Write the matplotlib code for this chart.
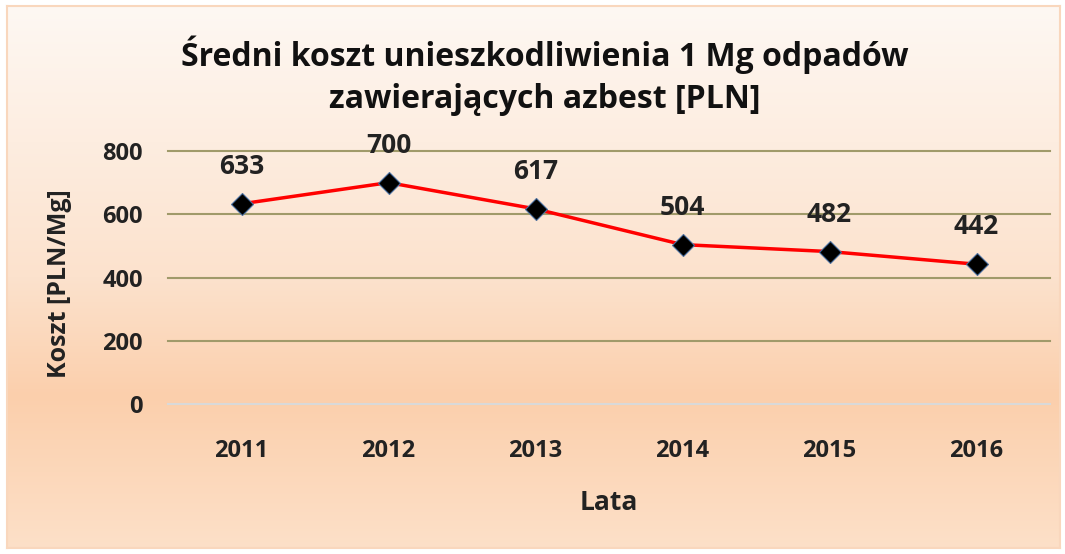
import matplotlib
matplotlib.use("Agg")
import matplotlib.pyplot as plt
import numpy as np

years = ["2011", "2012", "2013", "2014", "2015", "2016"]
costs = [633, 700, 617, 504, 482, 442]
yticks = [0, 200, 400, 600, 800]
title = "Średni koszt unieszkodliwienia 1 Mg odpadów\nzawierających azbest [PLN]"
xlabel = "Lata"
ylabel = "Koszt [PLN/Mg]"

plt.rcParams['font.family'] = ['Open Sans', 'DejaVu Sans']
W, H = 1065, 554
fig = plt.figure(figsize=(W/100, H/100), dpi=100)
fig.patch.set_facecolor("white")

# background gradient
bg = fig.add_axes([7/W, 6/H, 1053/W, 542/H], zorder=0)
c_top = np.array([254, 248, 243]) / 255
c_mid = np.array([252, 226, 205]) / 255
c_low = np.array([251, 207, 172]) / 255
c_bot = np.array([253, 224, 200]) / 255
t = np.linspace(0, 1, 300)
cols = np.zeros((300, 3))
for i, v in enumerate(t):
    if v < 0.5:
        a = v / 0.5; cols[i] = c_top * (1 - a) + c_mid * a
    elif v < 0.72:
        a = (v - 0.5) / 0.22; cols[i] = c_mid * (1 - a) + c_low * a
    else:
        a = (v - 0.72) / 0.28; cols[i] = c_low * (1 - a) + c_bot * a
img = np.repeat(cols[:, None, :], 10, axis=1)
bg.imshow(img, aspect="auto", extent=[0, 1, 0, 1], origin="upper")
bg.set_xlim(0, 1); bg.set_ylim(0, 1)
bg.set_xticks([]); bg.set_yticks([])
for s in bg.spines.values():
    s.set_edgecolor("#f9d7bd"); s.set_linewidth(1.5)

ax = fig.add_axes([168/W, 1 - 404/H, 882/W, (404 - 151)/H], zorder=1)
ax.patch.set_alpha(0)
x = np.arange(len(years))
ax.plot(x, costs, color="#ff0000", lw=2.5, zorder=3,
        marker="D", markersize=11, markerfacecolor="black",
        markeredgecolor="#4a6fa0", markeredgewidth=0.8)
for xi, v in zip(x, costs):
    ax.annotate(str(v), (xi, v), xytext=(0, 27), textcoords="offset points",
                ha="center", va="center", fontsize=19, fontweight="bold",
                color="#222222")
ax.set_xlim(-0.5, len(years) - 0.5)
ax.set_ylim(0, 800)
ax.set_yticks(yticks)
ax.set_xticks(x)
ax.set_xticklabels(years)
for v in yticks:
    ax.axhline(v, color="#d9d9d9" if v == 0 else "#a09a6a", lw=1.5,
               zorder=1, clip_on=False)
ax.tick_params(length=0, labelsize=17, colors="#222222")
ax.tick_params(axis="y", pad=18)
ax.tick_params(axis="x", pad=25)
for lab in ax.get_xticklabels() + ax.get_yticklabels():
    lab.set_fontweight("bold")
for s in ax.spines.values():
    s.set_visible(False)
ax.set_xlabel(xlabel, fontsize=19, fontweight="bold", color="#222222")
ax.xaxis.label.set_verticalalignment("center")
ax.xaxis.set_label_coords(0.5, (404 - 503) / 253)
ax.set_ylabel(ylabel, fontsize=18, fontweight="bold", color="#222222")
ax.yaxis.label.set_verticalalignment("center")
ax.yaxis.set_label_coords((60 - 168) / 882, (404 - 284) / 253)

fig.text(545/W, 1 - 76/H, title, ha="center", va="center", fontsize=23,
         fontweight="bold", color="#111111", linespacing=1.35)

fig.savefig("out.png", dpi=100)
